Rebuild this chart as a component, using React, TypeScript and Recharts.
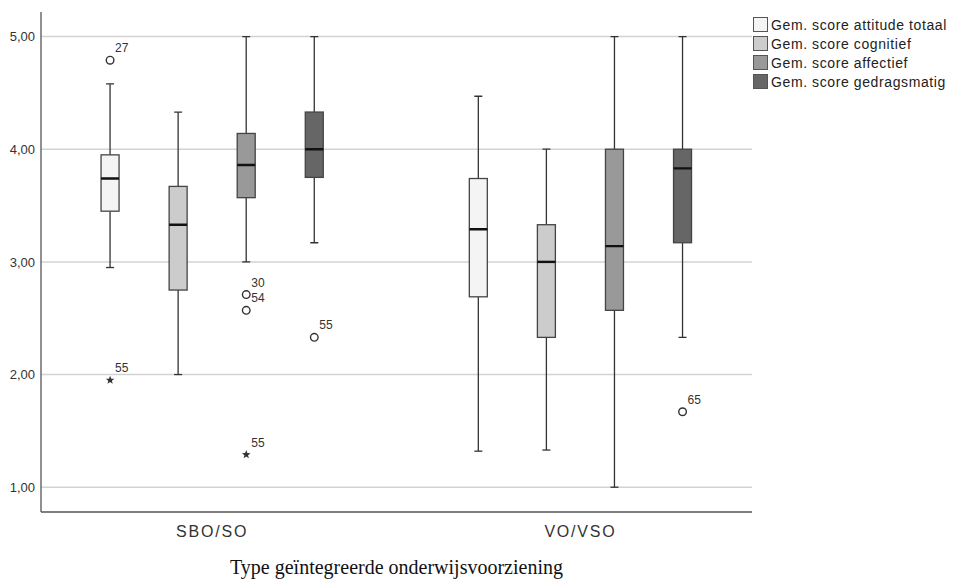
import { ComposedChart, Bar, Scatter, XAxis, YAxis, CartesianGrid } from 'recharts'

const groups = ['SBO/SO', 'VO/VSO']
const seriesNames = [
  'Gem. score attitude totaal',
  'Gem. score cognitief',
  'Gem. score affectief',
  'Gem. score gedragsmatig'
]
const seriesFills = ['#f4f4f4', '#cccccc', '#999999', '#666666']

// box statistics: one row per group, one column per series
const whiskerLow = [
  [2.95, 2.0, 3.0, 3.17],
  [1.32, 1.33, 1.0, 2.33]
]
const q1 = [
  [3.45, 2.75, 3.57, 3.75],
  [2.69, 2.33, 2.57, 3.17]
]
const median = [
  [3.74, 3.33, 3.86, 4.0],
  [3.29, 3.0, 3.14, 3.83]
]
const q3 = [
  [3.95, 3.67, 4.14, 4.33],
  [3.74, 3.33, 4.0, 4.0]
]
const whiskerHigh = [
  [4.58, 4.33, 5.0, 5.0],
  [4.47, 4.0, 5.0, 5.0]
]

const outliers = [
  { group: 0, series: 0, value: 4.79, id: '27', kind: 'circle' },
  { group: 0, series: 0, value: 1.95, id: '55', kind: 'star' },
  { group: 0, series: 2, value: 2.71, id: '30', kind: 'circle' },
  { group: 0, series: 2, value: 2.57, id: '54', kind: 'circle' },
  { group: 0, series: 2, value: 1.29, id: '55', kind: 'star' },
  { group: 0, series: 3, value: 2.33, id: '55', kind: 'circle' },
  { group: 1, series: 3, value: 1.67, id: '65', kind: 'circle' }
]

const yTicks = [1, 2, 3, 4, 5]

// spacing of box slots along the x axis
const GROUP_STEP = 5.41
const slot = (g: number, s: number) => g * GROUP_STEP + s
const groupCenters = groups.map((_, g) => slot(g, 1.5))

const boxes = groups.flatMap((_, g) =>
  seriesNames.map((_, s) => ({
    x: slot(g, s),
    box: [q1[g][s], q3[g][s]],
    low: whiskerLow[g][s],
    q1: q1[g][s],
    median: median[g][s],
    q3: q3[g][s],
    high: whiskerHigh[g][s],
    fill: seriesFills[s]
  }))
)

const outlierPoints = outliers.map(o => ({
  x: slot(o.group, o.series),
  y: o.value,
  id: o.id,
  kind: o.kind
}))

const SANS = '"Liberation Sans", Arial, sans-serif'

function BoxShape(props: any) {
  const { x, y, width, height, payload } = props
  if (x == null || y == null) return null
  const top = Math.min(y, y + height)
  const h = Math.abs(height)
  const ppu = h / (payload.q3 - payload.q1)
  const cx = x + width / 2
  const yHigh = top - (payload.high - payload.q3) * ppu
  const yLow = top + h + (payload.q1 - payload.low) * ppu
  const yMed = top + (payload.q3 - payload.median) * ppu
  const cap = 4
  return (
    <g>
      <line x1={cx} x2={cx} y1={yHigh} y2={top} stroke="#333" strokeWidth={1.3} />
      <line x1={cx} x2={cx} y1={top + h} y2={yLow} stroke="#333" strokeWidth={1.3} />
      <line x1={cx - cap} x2={cx + cap} y1={yHigh} y2={yHigh} stroke="#333" strokeWidth={1.3} />
      <line x1={cx - cap} x2={cx + cap} y1={yLow} y2={yLow} stroke="#333" strokeWidth={1.3} />
      <rect x={x} y={top} width={width} height={h} fill={payload.fill} stroke="#444" strokeWidth={1.3} />
      <line x1={x} x2={x + width} y1={yMed} y2={yMed} stroke="#111" strokeWidth={2.4} />
    </g>
  )
}

function OutlierMark(props: any) {
  const { cx, cy, payload } = props
  if (cx == null || cy == null) return null
  let mark
  if (payload.kind === 'star') {
    const pts: string[] = []
    for (let i = 0; i < 10; i++) {
      const r = i % 2 === 0 ? 4.5 : 1.9
      const a = -Math.PI / 2 + (i * Math.PI) / 5
      pts.push(`${cx + r * Math.cos(a)},${cy + r * Math.sin(a)}`)
    }
    mark = <polygon points={pts.join(' ')} fill="#333" />
  } else {
    mark = <circle cx={cx} cy={cy} r={3.8} fill="#fff" stroke="#333" strokeWidth={1.4} />
  }
  return (
    <g>
      {mark}
      <text x={cx + 5} y={cy - 8} fontSize={12} fill="#333" fontFamily={SANS}>
        {payload.id}
      </text>
    </g>
  )
}

export default function App() {
  return (
    <div style={{ position: 'absolute', left: 0, top: 0, width: 954, height: 584, background: '#fff' }}>
      <ComposedChart
        width={954}
        height={584}
        data={boxes}
        margin={{ top: 12, right: 202, bottom: 0, left: 0 }}
      >
        <CartesianGrid vertical={false} syncWithTicks stroke="#d3d3d3" strokeWidth={1.5} />
        <XAxis
          type="number"
          dataKey="x"
          domain={[-1.015, 9.43]}
          ticks={groupCenters}
          tickFormatter={(v: number) => groups[groupCenters.findIndex(c => Math.abs(c - v) < 0.01)] ?? ''}
          tickLine={false}
          tickMargin={8}
          height={72}
          axisLine={{ stroke: '#555', strokeWidth: 1.3 }}
          tick={{ fontSize: 16, fill: '#333', fontFamily: SANS, letterSpacing: 1.8 }}
          label={{
            value: 'Type geïntegreerde onderwijsvoorziening',
            position: 'insideBottom',
            offset: 10,
            style: { fontSize: 20, fill: '#111', fontFamily: '"Liberation Serif", "Times New Roman", serif' }
          }}
        />
        <YAxis
          type="number"
          domain={[0.78, 5.218]}
          ticks={yTicks}
          allowDataOverflow
          width={41}
          tickLine={false}
          tickMargin={0}
          tickFormatter={(v: number) => v.toFixed(2).replace('.', ',')}
          axisLine={{ stroke: '#555', strokeWidth: 1.3 }}
          tick={{ fontSize: 13, fill: '#333', fontFamily: SANS }}
        />
        <Bar dataKey="box" barSize={18} shape={BoxShape} isAnimationActive={false} />
        <Scatter data={outlierPoints} dataKey="y" shape={OutlierMark} isAnimationActive={false} />
      </ComposedChart>
      <div style={{ position: 'absolute', left: 753, top: 15, fontFamily: SANS, fontSize: 14, color: '#222' }}>
        {seriesNames.map((name, i) => (
          <div key={name} style={{ display: 'flex', alignItems: 'center', height: 19, letterSpacing: 0.6 }}>
            <span
              style={{
                display: 'inline-block',
                width: 13,
                height: 13,
                background: seriesFills[i],
                border: '1.5px solid #555',
                marginRight: 3
              }}
            />
            <span>{name}</span>
          </div>
        ))}
      </div>
    </div>
  )
}
